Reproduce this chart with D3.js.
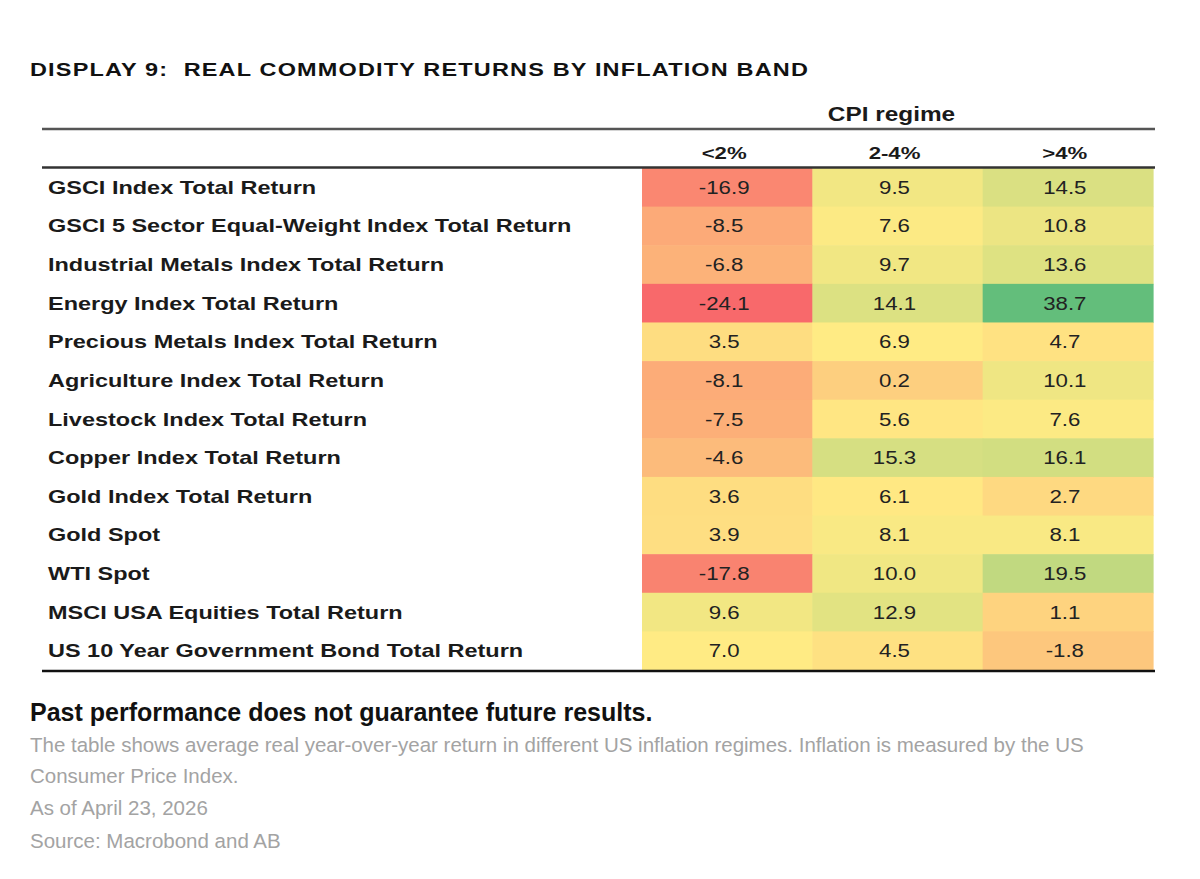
<!DOCTYPE html>
<html><head><meta charset="utf-8">
<script src="https://cdn.jsdelivr.net/npm/d3@7"></script>
<style>
html,body{margin:0;padding:0;background:#fff;}
svg text{font-family:"Liberation Sans",Arial,Helvetica,sans-serif;}
</style></head>
<body>
<svg id="chart" width="1200" height="879"></svg>
<script>
const titleText = "DISPLAY 9:  REAL COMMODITY RETURNS BY INFLATION BAND";
const groupHeader = "CPI regime";
const rowLabels = [
  "GSCI Index Total Return",
  "GSCI 5 Sector Equal-Weight Index Total Return",
  "Industrial Metals Index Total Return",
  "Energy Index Total Return",
  "Precious Metals Index Total Return",
  "Agriculture Index Total Return",
  "Livestock Index Total Return",
  "Copper Index Total Return",
  "Gold Index Total Return",
  "Gold Spot",
  "WTI Spot",
  "MSCI USA Equities Total Return",
  "US 10 Year Government Bond Total Return"
];
const colLabels = ["<2%", "2-4%", ">4%"];
const lowBand  = [-16.9, -8.5, -6.8, -24.1, 3.5, -8.1, -7.5, -4.6, 3.6, 3.9, -17.8, 9.6, 7.0];
const midBand  = [9.5, 7.6, 9.7, 14.1, 6.9, 0.2, 5.6, 15.3, 6.1, 8.1, 10.0, 12.9, 4.5];
const highBand = [14.5, 10.8, 13.6, 38.7, 4.7, 10.1, 7.6, 16.1, 2.7, 8.1, 19.5, 1.1, -1.8];
const footNoteBold = "Past performance does not guarantee future results.";
const footNotes = [
  "The table shows average real year-over-year return in different US inflation regimes. Inflation is measured by the US",
  "Consumer Price Index.",
  "As of April 23, 2026",
  "Source: Macrobond and AB"
];
const scaleColors = ["#F8696B", "#FFEB84", "#63BE7B"];

const series = [lowBand, midBand, highBand];
const cells = [];
rowLabels.forEach((r, i) => colLabels.forEach((c, j) => cells.push({row: r, col: c, value: series[j][i]})));

const svg = d3.select("#chart");
const SX = 1.305;

const x = d3.scaleBand().domain(colLabels).range([642, 1153]);
const y = d3.scaleBand().domain(rowLabels).range([168, 670]);

const allVals = cells.map(d => d.value);
const color = d3.scaleLinear()
  .domain([d3.min(allVals), d3.median(allVals), d3.max(allVals)])
  .range(scaleColors)
  .interpolate(d3.interpolateRgb);

function stext(g, tx, ty, str, opts) {
  const t = g.append("text")
    .attr("transform", `translate(${tx},${ty}) scale(${opts.sx || SX},1)`)
    .attr("text-anchor", opts.anchor || "start")
    .style("font-size", opts.size + "px")
    .style("font-weight", opts.weight || "normal")
    .style("fill", opts.fill || "#1a1a1a")
    .style("white-space", "pre")
    .text(str);
  if (opts.ls) t.style("letter-spacing", opts.ls + "px");
  return t;
}

// title
stext(svg, 30, 76, titleText, {size: 18, weight: "bold", ls: 0.9, fill: "#111"});

// cells
svg.append("g").selectAll("rect").data(cells).join("rect")
  .attr("x", d => x(d.col))
  .attr("y", d => y(d.row))
  .attr("width", x.bandwidth() + 0.6)
  .attr("height", y.bandwidth() + 0.6)
  .attr("fill", d => color(d.value));

const fmt = d3.formatLocale({decimal: ".", thousands: ",", grouping: [3], currency: ["", ""], minus: "-"}).format(".1f");
const numG = svg.append("g");
cells.forEach(d => {
  stext(numG, x(d.col) + x.bandwidth() / 2 - 3, y(d.row) + y.bandwidth() / 2 + 6.5, fmt(d.value),
    {size: 17.5, anchor: "middle", fill: "#222", sx: 1.27});
});

// row labels
const labG = svg.append("g");
rowLabels.forEach(r => {
  stext(labG, 48, y(r) + y.bandwidth() / 2 + 6.5, r, {size: 18, weight: "bold", fill: "#1a1a1a"});
});

// header
stext(svg, (x.range()[0] + x.range()[1]) / 2 - 6, 121, groupHeader, {size: 19.5, weight: "bold", anchor: "middle", sx: 1.25});
colLabels.forEach(c => {
  stext(svg, x(c) + x.bandwidth() / 2 - 3, 159, c, {size: 17, weight: "bold", anchor: "middle"});
});

// rules
svg.append("line").attr("x1", 42).attr("x2", 1155).attr("y1", 129).attr("y2", 129)
  .attr("stroke", "#555").attr("stroke-width", 2.5);
svg.append("line").attr("x1", 42).attr("x2", 1155).attr("y1", 167.5).attr("y2", 167.5)
  .attr("stroke", "#333").attr("stroke-width", 2.5);
svg.append("line").attr("x1", 42).attr("x2", 1155).attr("y1", 671).attr("y2", 671)
  .attr("stroke", "#111").attr("stroke-width", 2.5);

// footer
svg.append("text").attr("x", 30).attr("y", 721)
  .style("font-size", "25px").style("font-weight", "bold").style("fill", "#111")
  .text(footNoteBold);
footNotes.forEach((t, i) => {
  svg.append("text").attr("x", 30).attr("y", [752, 783, 815, 848][i])
    .style("font-size", "20.5px").style("fill", "#a3a3a3")
    .text(t);
});
</script>
</body></html>
